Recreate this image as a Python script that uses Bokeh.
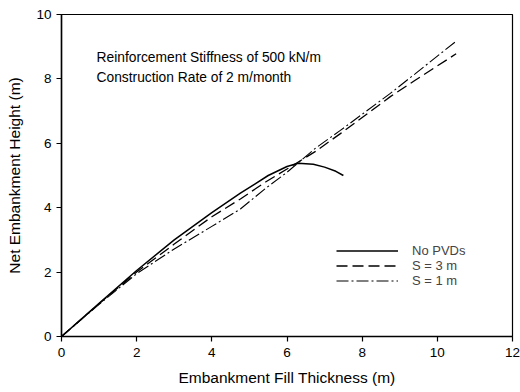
from bokeh.plotting import figure
from bokeh.models import Range1d, Legend, LegendItem, Label, FixedTicker
from bokeh.embed import file_html
from bokeh.resources import INLINE

# Net embankment height vs. fill thickness for three drain cases
no_pvd_x = [0, 1, 2, 3, 4, 4.76, 5.5, 6.0, 6.3, 6.7, 7.0, 7.3, 7.5]
no_pvd_y = [0, 1.03, 2.05, 3.0, 3.85, 4.45, 5.0, 5.28, 5.38, 5.35, 5.26, 5.13, 5.0]

s3_x = [0, 1, 2, 3, 4, 4.76, 5.43, 6.0, 6.76, 7.42, 8.75, 9.4, 10.5]
s3_y = [0, 1.02, 2.0, 2.87, 3.72, 4.27, 4.8, 5.2, 5.75, 6.3, 7.45, 7.95, 8.78]

s1_x = [0, 1, 2, 3, 4, 4.76, 5.43, 6.0, 6.76, 7.42, 8.75, 9.4, 10.5]
s1_y = [0, 1.0, 1.95, 2.72, 3.42, 3.96, 4.6, 5.1, 5.85, 6.4, 7.55, 8.15, 9.17]

series_labels = ["No PVDs", "S = 3 m", "S = 1 m"]
x_ticks = [0, 2, 4, 6, 8, 10, 12]
y_ticks = [0, 2, 4, 6, 8, 10]

FONT = "Liberation Sans"

p = figure(width=520, height=392, output_backend="svg", toolbar_location=None,
           x_range=Range1d(0, 12), y_range=Range1d(0, 10),
           min_border_left=61, min_border_right=8,
           min_border_top=14, min_border_bottom=56)

p.xgrid.visible = False
p.ygrid.visible = False
p.outline_line_color = "black"
p.outline_line_width = 1.2
p.background_fill_color = "white"
p.border_fill_color = "white"

for ax in (p.xaxis[0], p.yaxis[0]):
    ax.axis_line_width = 1.5
    ax.major_tick_in = 0
    ax.major_tick_out = 5
    ax.minor_tick_in = 0
    ax.minor_tick_out = 0
    ax.major_tick_line_width = 1.2
    ax.major_label_text_font = FONT
    ax.major_label_text_font_size = "13.5px"
    ax.major_label_text_color = "black"
    ax.axis_label_text_font = FONT
    ax.axis_label_text_font_size = "15.5px"
    ax.axis_label_text_font_style = "normal"
    ax.axis_label_text_color = "black"

p.xaxis.ticker = FixedTicker(ticks=x_ticks)
p.yaxis.ticker = FixedTicker(ticks=y_ticks)
p.xaxis.axis_label = "Embankment Fill Thickness (m)"
p.yaxis.axis_label = "Net Embankment Height (m)"
p.xaxis.major_label_standoff = 6
p.yaxis.major_label_standoff = 5
p.xaxis.axis_label_standoff = 9
p.yaxis.axis_label_standoff = 10

r1 = p.line(no_pvd_x, no_pvd_y, line_color="black", line_width=1.5)
r2 = p.line(s3_x, s3_y, line_color="black", line_width=1.3, line_dash="11 5")
r3 = p.line(s1_x, s1_y, line_color="black", line_width=1.1, line_dash="12 3 2 3")

legend = Legend(items=[LegendItem(label=series_labels[0], renderers=[r1]),
                       LegendItem(label=series_labels[1], renderers=[r2]),
                       LegendItem(label=series_labels[2], renderers=[r3])],
                location=(275, 48), glyph_width=62, glyph_height=15,
                label_height=15, label_standoff=14, spacing=0,
                padding=0, margin=0, border_line_color=None,
                background_fill_alpha=0,
                label_text_font=FONT, label_text_font_size="13px")
p.add_layout(legend)

for i, t in enumerate(["Reinforcement Stiffness of 500 kN/m",
                       "Construction Rate of 2 m/month"]):
    p.add_layout(Label(x=35, y=279 - i * 20, x_units="screen", y_units="screen",
                       text=t, text_font=FONT, text_font_size="13.8px",
                       text_color="black", text_baseline="middle"))

open("out.html", "w").write(file_html(p, INLINE))
